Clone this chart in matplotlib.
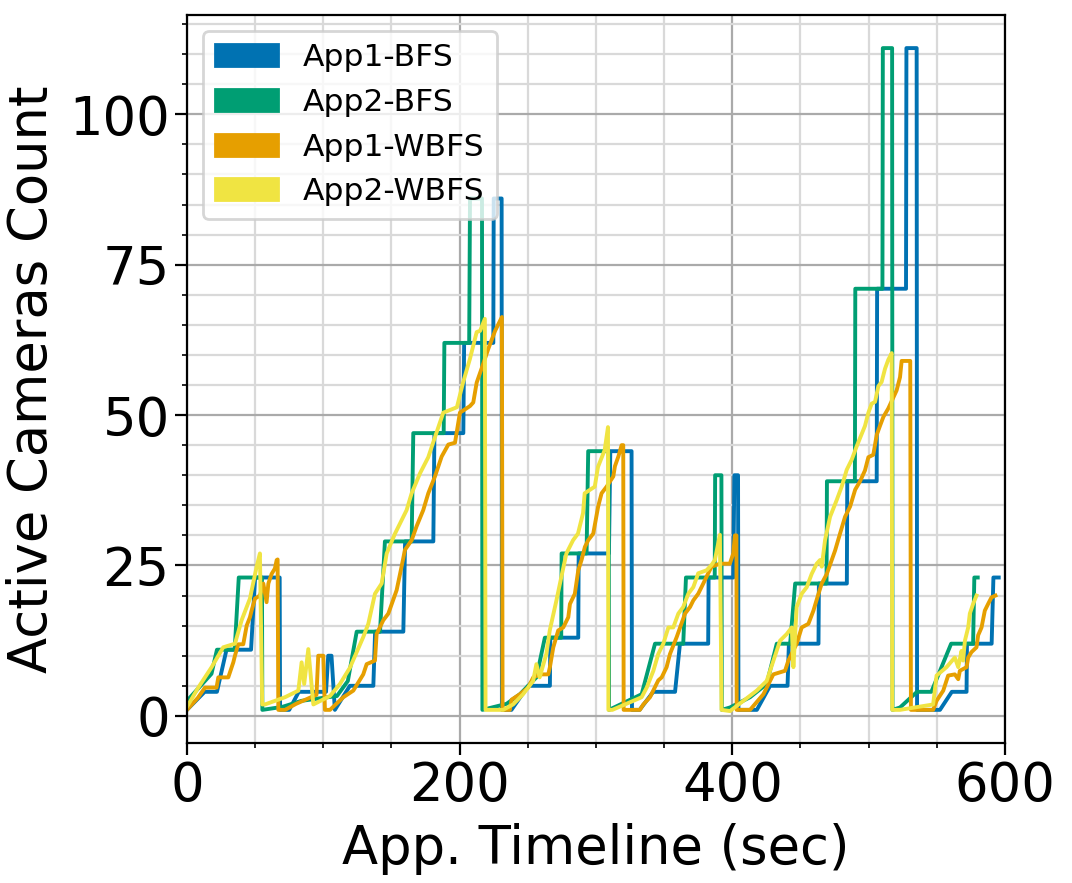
import matplotlib
matplotlib.use('Agg')
import matplotlib.pyplot as plt
import matplotlib.patches as mpatches
from matplotlib.ticker import MultipleLocator

COLORS = ['#0072b2', '#009e73', '#e69f00', '#f0e442']
LABELS = ['App1-BFS', 'App2-BFS', 'App1-WBFS', 'App2-WBFS']

# App1-BFS (time in sec, active cameras)
app1_bfs_t = [0, 13, 22, 29, 47, 50, 68, 68.3,
              75, 82, 102, 103.6, 106, 108.5,
              119.5, 136.7, 138, 158.7, 160, 180.7, 181.5, 202.7, 203.3, 224.7, 225, 230.8, 231,
              238, 250.3, 266.2, 266.5, 287, 287.3, 309.5, 310.5, 326.1, 326.4,
              332, 342, 358, 361.6, 382.3, 382.6, 400.7, 401.5, 404.2, 404.5,
              418, 427.7, 440.5, 441.5, 463.2, 463.5, 484, 484.3, 505.9, 506.2, 527.4, 527.7, 535.2, 535.5,
              552.3, 561, 571.8, 572.1, 590.2, 591.5, 595.4]
app1_bfs_n = [1, 4, 4, 11, 11, 23, 23, 1,
              1, 4, 4, 10, 10, 1,
              5, 5, 14, 14, 29, 29, 47, 47, 62, 62, 86, 86, 1,
              1, 5, 5, 13, 13, 27, 27, 44, 44, 1,
              1, 4, 4, 12, 12, 23, 23, 40, 40, 1,
              1, 5, 5, 12, 12, 22, 22, 39, 39, 71, 71, 111, 111, 1,
              1, 4, 4, 12, 12, 23, 23]

# App2-BFS
app2_bfs_t = [0, 18, 22, 35, 38, 55, 55.3,
              70, 84, 100, 110, 118, 124.5, 141.6, 145.2, 164.8, 166, 188.3, 188.8, 207, 207.6, 216.4, 216.7,
              234.4, 244.2, 256.3, 262.5, 274.5, 274.8, 293.1, 294.3, 309.3, 309.6,
              333.5, 343.3, 364, 366, 387.1, 387.4, 392, 392.3,
              398.3, 413, 425.2, 432.6, 442.4, 446.1, 469.1, 469.4, 489.9, 490.2, 510.1, 510.4, 517.2, 517.5,
              523, 535.5, 546, 560.5, 576.6, 577.5, 580]
app2_bfs_n = [2.5, 7, 11, 11, 23, 23, 1,
              1.5, 2.5, 3, 3.3, 5.8, 14, 14, 29, 29, 47, 47, 62, 62, 86, 86, 1,
              2, 3.6, 6.4, 13, 13, 27, 27, 44, 44, 1,
              3.6, 12, 12, 23, 23, 40, 40, 1,
              1.4, 3.1, 5.3, 12, 12, 22, 22, 39, 39, 71, 71, 111, 111, 1,
              1.4, 4, 4, 12, 12, 23, 23]

# App1-WBFS
app1_wbfs_t = [0, 8, 13.2, 21.7, 23, 30.3, 34, 35.2, 37.6, 41.3, 43.8, 46.2, 47.4, 49.9, 53.5, 56, 58.4,
               59.7, 62.1, 64.5, 65.8, 66.5, 67,
               72, 80, 90, 95, 96.3, 100, 101.2, 104.9,
               114.7, 122, 129.3, 131.8, 137.9, 139.1, 144, 147.7, 153.8, 157.4, 159.9, 164.8, 168.4, 173.3,
               177, 181.9, 186.8, 191.7, 196.6, 200.2, 207.6, 210, 212.5, 216.5, 221, 226, 231, 231.5,
               236.8, 238.1, 244.2, 250.3, 254, 258.9, 265, 266.2, 268.7, 272.3, 276, 279.7, 280.9, 284.5,
               287, 289.4, 291.9, 294.3, 298, 301.6, 304.1, 307.8, 312.7, 313.9, 316.4, 318.8, 320, 320.3,
               332.2, 334.7, 339.6, 345.7, 348.2, 351.8, 354.3, 359.2, 365.3, 369, 371.4, 375, 378.7, 382.3,
               384.8, 390.9, 398.2, 400.7, 401.9, 403, 403.2,
               413, 422.8, 430.1, 438.7, 441.1, 447.2, 450.9, 455.8, 459.5, 463.2, 465.6, 469.3, 472.9, 475.4,
               479, 482.7, 486.4, 490.1, 493.7, 497.3, 499.8, 503.4, 505.9, 508.3, 510.8, 514.4, 520.5, 523,
               524.2, 530.5, 531,
               547.3, 549.8, 554.7, 558.3, 563.2, 565.7, 566.9, 571.8, 573, 575.4, 579.1, 580.3, 582.8, 585.2,
               587.6, 590.1, 593]
app1_wbfs_n = [1, 3, 4.7, 4.7, 6.4, 6.4, 8.9, 10, 11.9, 11.9, 15, 16.4, 17.5, 19.5, 20, 22, 18.9,
               22, 23.6, 24.5, 25.9, 26, 1,
               1, 2, 3, 3.5, 10, 10, 1, 1,
               3.1, 4.2, 6.9, 8.6, 9.2, 13.6, 15.9, 17, 20.9, 24.8, 27.6, 29.2, 31.5, 34.2,
               37, 39.8, 43.1, 45.1, 45.4, 50.4, 51.5, 52.1, 55.4, 58, 61, 64, 66.3, 1,
               1, 2.7, 3.6, 4.7, 6.4, 6.9, 6.9, 8.1, 11.4, 14.2, 14.7, 16.4, 18.6, 20.3,
               24.2, 25.9, 28.1, 29.2, 30.3, 34.8, 37, 38.1, 39.8, 41.5, 43.1, 45, 45, 1,
               1, 1.9, 3.1, 5.9, 6.4, 8.1, 10.3, 13.1, 17, 18.1, 19.2, 20.3, 22, 23.7,
               24.8, 25.3, 25.3, 27, 30, 30, 1,
               1, 3.6, 6.9, 7.5, 9.2, 12, 14.7, 15.3, 17.5, 20.3, 22, 23.6, 25.9, 27.5,
               30.3, 33.1, 34.8, 37.6, 39, 40.8, 43, 43.4, 46.7, 48.2, 49.7, 51.1, 54.1, 56.3,
               59, 59, 1,
               1, 2.5, 4.2, 6.7, 6.9, 6.1, 7.5, 8.1, 9.7, 10.6, 11.4, 13.4, 14.7, 17.5,
               18.6, 19.7, 20]

# App2-WBFS
app2_wbfs_t = [0, 8.3, 18.1, 26.6, 35.2, 40.1, 46.2, 51.1, 53.5, 55.2,
               57.2, 71.9, 81.7, 84.1, 86, 89, 92.7, 104.9,
               112.2, 119.5, 129.3, 133, 137.9, 142.8, 146.5, 152.6, 161.1, 164.8, 170.9, 177, 182, 188,
               198, 202.5, 207.5, 212.5, 215, 218.5, 219,
               231.9, 239.2, 246.5, 253.9, 256.3, 258.7, 263.6, 266.1, 271, 274.6, 278.3, 283.2, 286.8,
               290.5, 291.7, 299.1, 301.5, 306.4, 308.8, 309.1,
               312, 333.5, 337.2, 342.1, 345.7, 349.4, 353.1, 356.7, 360.4, 364, 367.7, 371.4, 375, 381.1,
               384.8, 387.2, 390.9, 392.1,
               398.3, 408.1, 417.9, 425.2, 435, 439.9, 443.6, 444.8, 447.2, 450.9, 454.6, 458.2, 461.9,
               464.3, 465.6, 468, 471.7, 476.6, 480.2, 483.9, 487.6, 491.2, 497.3, 499.8, 502.2, 504.7,
               507.1, 509.5, 512, 514.4, 516.9, 517.3,
               523, 547.3, 549.8, 557.1, 563.2, 565.7, 568.1, 569.3, 570.6, 573, 574.2, 576.6, 579.1]
app2_wbfs_n = [1.5, 4.7, 8.1, 11.4, 12, 15.9, 19.5, 24.8, 27, 1.9,
               1.9, 3.1, 4.2, 8.9, 5.3, 11.1, 1.9, 3.3,
               5.3, 8, 13.1, 15.3, 20.3, 22, 27, 30.3, 34.2, 37, 40.3, 43, 46.4, 50.4,
               51.3, 55.4, 59.3, 63.8, 64, 66, 1,
               1, 1.9, 3.6, 5.8, 8.6, 6.4, 10.3, 14.2, 19.2, 23.1, 27, 29.2, 30.3,
               33.7, 37, 38.1, 41.4, 44.2, 48, 1,
               1, 3.1, 4.7, 7.5, 10.3, 12, 14.7, 14.7, 17, 18.1, 20.3, 21.4, 23.7, 24.2,
               25.1, 25.9, 30.1, 1,
               0.8, 2.5, 4.2, 5.8, 12.5, 13.6, 14.7, 8.1, 18.1, 20.3, 21.4, 23.6, 25.3,
               25.9, 24.8, 29.2, 33.1, 35.9, 38.1, 40.9, 42.6, 44.8, 48.2, 50.4, 51.9, 52.2,
               54.8, 55.5, 57.7, 59.2, 60.3, 1,
               1, 1.9, 6.7, 8.1, 9.7, 8.1, 10.8, 9.2, 12.5, 14.7, 17, 18.6, 20]

series = [(app1_bfs_t, app1_bfs_n), (app2_bfs_t, app2_bfs_n),
          (app1_wbfs_t, app1_wbfs_n), (app2_wbfs_t, app2_wbfs_n)]

fig = plt.figure(figsize=(5.36, 4.415), dpi=200)
ax = fig.add_axes([0.1744, 0.1586, 0.7631, 0.8244])

for (t, n), c in zip(series, COLORS):
    ax.plot(t, n, color=c, lw=1.4)

ax.set_xlim(0, 600)
ax.set_ylim(-4.5, 116.5)
ax.xaxis.set_major_locator(MultipleLocator(200))
ax.xaxis.set_minor_locator(MultipleLocator(50))
ax.yaxis.set_major_locator(MultipleLocator(25))
ax.yaxis.set_minor_locator(MultipleLocator(5))
ax.grid(which='major', color='#aaaaaa', lw=0.8)
ax.grid(which='minor', color='#d9d9d9', lw=0.8)
ax.set_axisbelow(True)
ax.tick_params(which='major', labelsize=19, length=4.2, pad=2)
ax.tick_params(which='minor', length=1.8)

ax.set_xlabel('App. Timeline (sec)', fontsize=19)
ax.set_ylabel('Active Cameras Count', fontsize=19)

handles = [mpatches.Patch(color=c, label=l) for c, l in zip(COLORS, LABELS)]
ax.legend(handles=handles, loc='upper left', fontsize=11.3)

fig.savefig('out.png', dpi=200)
